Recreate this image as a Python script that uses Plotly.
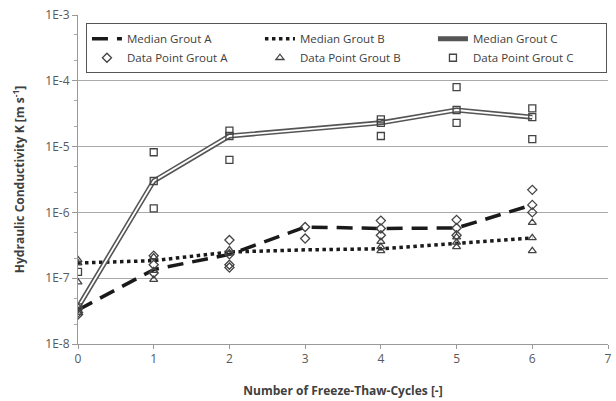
import plotly.graph_objects as go

cycles = [0, 1, 2, 3, 4, 5, 6]
median_a = [3.3e-8, 1.35e-7, 2.3e-7, 6.0e-7, 5.7e-7, 5.8e-7, 1.3e-6]
median_b = [1.7e-7, 1.85e-7, 2.5e-7, 2.7e-7, 2.8e-7, 3.4e-7, 4.1e-7]
median_c = [3.6e-8, 3.0e-6, 1.45e-5, 1.85e-5, 2.3e-5, 3.6e-5, 2.8e-5]

pts_a_x = [0, 0, 0, 1, 1, 1, 2, 2, 2, 2, 3, 3, 4, 4, 4, 5, 5, 5, 6, 6, 6]
pts_a_y = [3.5e-8, 3.0e-8, 2.8e-8, 2.2e-7, 1.6e-7, 1.2e-7, 3.8e-7, 2.3e-7, 1.6e-7, 1.45e-7,
           6.0e-7, 4.0e-7, 7.5e-7, 5.7e-7, 4.5e-7, 7.7e-7, 5.8e-7, 4.5e-7, 2.2e-6, 1.3e-6, 1.0e-6]
pts_b_x = [0, 0, 0, 1, 1, 1, 2, 2, 4, 4, 4, 5, 5, 5, 6, 6, 6]
pts_b_y = [1.9e-7, 1.7e-7, 8.7e-8, 2.1e-7, 1.3e-7, 9.5e-8, 2.7e-7, 2.4e-7,
           3.6e-7, 3.0e-7, 2.6e-7, 4.2e-7, 3.5e-7, 3.0e-7, 7.0e-7, 4.1e-7, 2.6e-7]
pts_c_x = [0, 0, 0, 1, 1, 1, 2, 2, 2, 4, 4, 4, 5, 5, 5, 6, 6, 6]
pts_c_y = [1.25e-7, 3.6e-8, 3.2e-8, 8.2e-6, 3.0e-6, 1.15e-6, 1.75e-5, 1.45e-5, 6.3e-6,
           2.6e-5, 2.3e-5, 1.45e-5, 8.0e-5, 3.6e-5, 2.3e-5, 3.8e-5, 2.8e-5, 1.3e-5]

ytick_vals = [1e-8, 1e-7, 1e-6, 1e-5, 1e-4, 1e-3]
ytick_text = ["1E-8", "1E-7", "1E-6", "1E-5", "1E-4", "1E-3"]

FONT = "Open Sans"
fig = go.Figure()

fig.add_trace(go.Scatter(x=cycles, y=median_a, mode="lines", name="Median Grout A",
                         line=dict(color="#1a1a1a", width=3.5, dash="16px,9px")))
fig.add_trace(go.Scatter(x=cycles, y=median_b, mode="lines", name="Median Grout B",
                         line=dict(color="#1a1a1a", width=3.5, dash="dot")))
fig.add_trace(go.Scatter(x=cycles, y=median_c, mode="lines", name="Median Grout C",
                         line=dict(color="#555555", width=5)))
fig.add_trace(go.Scatter(x=cycles, y=median_c, mode="lines", showlegend=False,
                         line=dict(color="white", width=1.8), hoverinfo="skip"))

mk = dict(color="#444444", size=7, line=dict(color="#444444", width=1.3))
fig.add_trace(go.Scatter(x=pts_a_x, y=pts_a_y, mode="markers", name="Data Point Grout A",
                         marker=dict(symbol="diamond-open", **mk)))
fig.add_trace(go.Scatter(x=pts_b_x, y=pts_b_y, mode="markers", name="Data Point Grout B",
                         marker=dict(symbol="triangle-up-open", **mk)))
fig.add_trace(go.Scatter(x=pts_c_x, y=pts_c_y, mode="markers", name="Data Point Grout C",
                         marker=dict(symbol="square-open", **mk)))

fig.update_layout(
    width=616, height=401,
    margin=dict(l=78, r=4, t=15, b=57),
    paper_bgcolor="white", plot_bgcolor="white",
    font=dict(family=FONT, size=11, color="#404040"),
    legend=dict(orientation="h", x=0.015, y=0.975, xanchor="left", yanchor="top",
                bgcolor="white", bordercolor="#555555", borderwidth=1,
                entrywidth=128, font=dict(size=11.5, color="#404040"),
                tracegroupgap=0, itemwidth=30),
    xaxis=dict(range=[0, 7], dtick=1, tick0=0, showgrid=False, zeroline=False,
               showline=True, linecolor="#999999", linewidth=1,
               ticks="outside", ticklen=4, tickcolor="#999999",
               tickfont=dict(size=12, color="#595959"),
               title=dict(text="<b>Number of Freeze-Thaw-Cycles [-]</b>",
                          font=dict(size=12, color="#404040"), standoff=20)),
    yaxis=dict(type="log", range=[-8, -3], tickvals=ytick_vals, ticktext=ytick_text,
               showgrid=True, gridcolor="#aaaaaa", gridwidth=1, zeroline=False,
               showline=True, linecolor="#999999", linewidth=1,
               ticks="outside", ticklen=5, tickcolor="#999999",
               minor=dict(ticks="outside", ticklen=3, tickcolor="#aaaaaa", showgrid=False),
               tickfont=dict(size=12, color="#595959"),
               title=dict(text="<b>Hydraulic Conductivity K [m s<sup>-1</sup>]</b>",
                          font=dict(size=12, color="#404040"), standoff=18)),
)

fig.write_html("out.html")
